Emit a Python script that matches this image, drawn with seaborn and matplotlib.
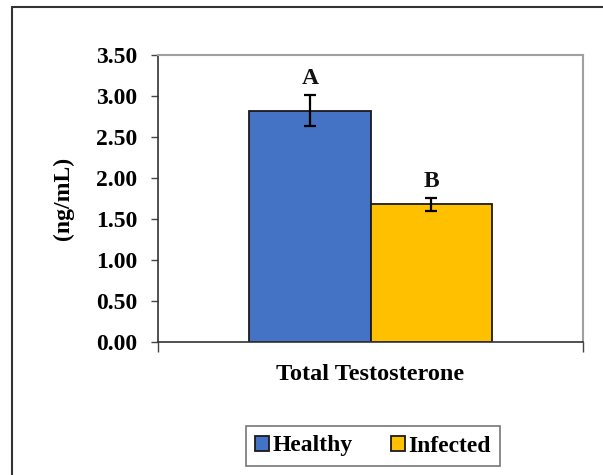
import matplotlib
matplotlib.use("Agg")
import matplotlib.pyplot as plt
from matplotlib.lines import Line2D
from matplotlib.patches import Patch
import seaborn as sns
import pandas as pd

# Data
groups = ["Healthy", "Infected"]
category = ["Total Testosterone"]
means = [2.82, 1.68]
errors = [0.19, 0.08]
letters = ["A", "B"]
colors = ["#4472C4", "#FFC000"]
yticks = [0.0, 0.5, 1.0, 1.5, 2.0, 2.5, 3.0, 3.5]

sns.set_theme(style="white")
plt.rcParams["font.family"] = ["Liberation Serif", "DejaVu Serif"]
plt.rcParams["font.weight"] = "bold"
plt.rcParams["text.color"] = "black"
plt.rcParams["xtick.color"] = "black"
plt.rcParams["ytick.color"] = "black"
plt.rcParams["axes.labelcolor"] = "black"

FS = 17

df = pd.DataFrame({"cat": category * len(groups), "group": groups, "value": means})

fig = plt.figure(figsize=(6.03, 4.75), dpi=100)
ax = fig.add_axes([158 / 603, 1 - 342 / 475, 425 / 603, 287 / 475])

sns.barplot(data=df, x="cat", y="value", hue="group", palette=colors,
            saturation=1, width=0.57, errorbar=None, edgecolor="#1a1a1a",
            linewidth=1.3, legend=False, ax=ax)

# Error bars and significance letters on each bar
for patch, m, e, lab in zip(ax.patches, means, errors, letters):
    cx = patch.get_x() + patch.get_width() / 2
    ax.errorbar(cx, m, yerr=e, fmt="none", ecolor="black", elinewidth=1.6,
                capsize=4.5, capthick=1.6, zorder=5)
    ax.text(cx, m + e + 0.07, lab, ha="center", va="bottom",
            fontsize=FS, fontweight="bold", color="#111111")

ax.set_ylim(0, 3.5)
ax.set_xlim(-0.5, 0.5)
ax.set_yticks(yticks)
ax.set_yticklabels([f"{t:.2f}" for t in yticks], fontsize=FS, fontweight="bold")
ax.set_xticks([-0.5, 0.5])
ax.set_xticklabels([])
ax.set_xlabel(category[0], fontsize=FS + 0.5, fontweight="bold", va="center")
ax.xaxis.set_label_coords(0.5, -(375 - 342) / 287)
ax.set_ylabel("(ng/mL)", fontsize=FS, fontweight="bold", va="center")
ax.yaxis.set_label_coords((63 - 158) / 425, 0.5)

ax.tick_params(axis="y", direction="out", length=5, width=1, color="#444444",
               left=True, pad=10)
ax.tick_params(axis="x", direction="out", length=7, width=1, color="#444444",
               bottom=True)

for side in ["left", "bottom"]:
    ax.spines[side].set_color("#333333")
    ax.spines[side].set_linewidth(1.2)
for side in ["top", "right"]:
    ax.spines[side].set_color("#a0a0a0")
    ax.spines[side].set_linewidth(1.5)

handles = [Patch(facecolor=c, edgecolor="#1a1a1a", linewidth=1.3) for c in colors]
leg = fig.legend(handles, groups, loc="center", bbox_to_anchor=(373 / 603, 1 - 446 / 475),
                 ncol=2, frameon=True, fancybox=False, fontsize=FS,
                 handlelength=0.6, handleheight=0.6, handletextpad=0.15,
                 columnspacing=1.6, borderpad=0.4, borderaxespad=0)
leg.get_frame().set_edgecolor("#555555")
leg.get_frame().set_linewidth(1.2)
for t in leg.get_texts():
    t.set_fontweight("bold")

# Outer chart border (top and left edges)
fig.add_artist(Line2D([12 / 603, 1.0], [1 - 7 / 475, 1 - 7 / 475],
                      transform=fig.transFigure, color="#333333", lw=1.5))
fig.add_artist(Line2D([12 / 603, 12 / 603], [0.0, 1 - 7 / 475],
                      transform=fig.transFigure, color="#333333", lw=1.5))

fig.savefig("out.png", dpi=100)
